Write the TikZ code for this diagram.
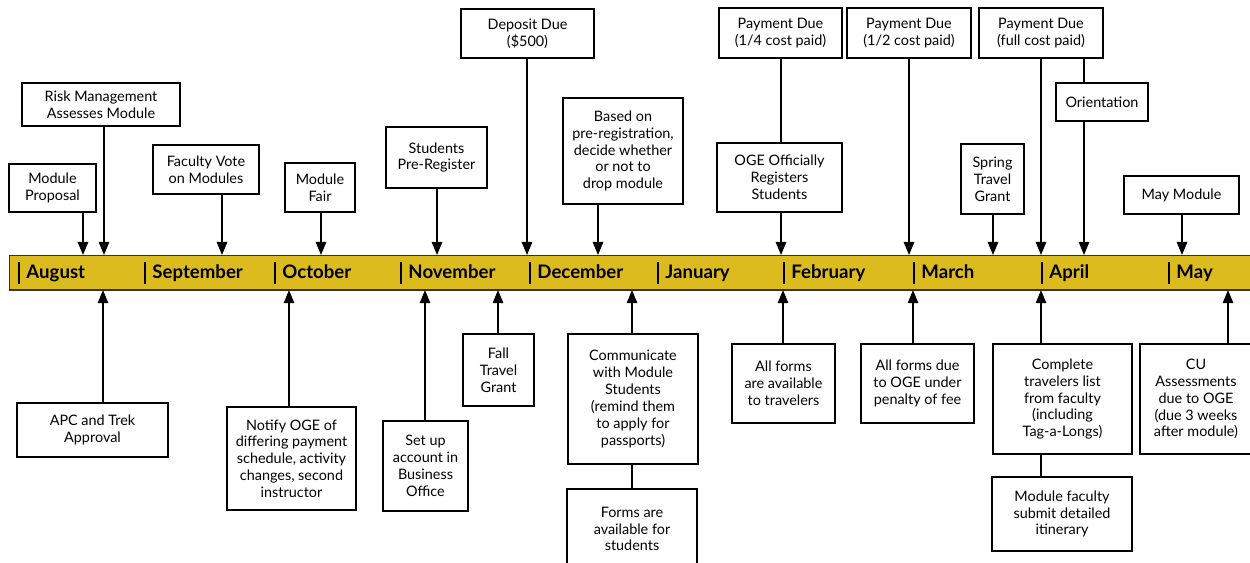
\documentclass[tikz,border=0pt]{standalone}
\usepackage{fontspec}
\setmainfont{Lato}
\usetikzlibrary{arrows.meta, positioning}
\definecolor{bargold}{RGB}{220, 187, 31}
\definecolor{baredge}{RGB}{58, 52, 28}

\begin{document}
\begin{tikzpicture}[x=0.02cm, y=-0.02cm,
  box/.style={draw, line width=0.8pt, fill=white, align=center, inner sep=1pt, font=\fontsize{8.2}{9.6}\selectfont},
  wh/.style 2 args={minimum width=#1*0.02cm, minimum height=#2*0.02cm},
  month/.style={anchor=base west, inner sep=0pt, font=\fontsize{10.6}{12}\selectfont\bfseries,
    execute at begin node={\rule[-0.27em]{1pt}{1.13em}\hspace{3.6pt}}},
  arr/.style={line width=0.8pt, -{Triangle[length=7.5pt, width=6pt]}},
  link/.style={line width=0.8pt}]
  \useasboundingbox (0,0) rectangle (1250,562);
  \clip (0,0) rectangle (1250,562);

  % the month bar
  \node[fill=bargold, draw=baredge, line width=0.6pt, anchor=north west, inner sep=0pt,
    minimum width=25.2cm, minimum height=0.68cm] (bar) at (9,255) {};
  \draw[baredge, line width=1.3pt] (bar.south west) -- (bar.south east);

  \node[month] (aug) at (18,278.5) {August};
  \node[month] (sep) at (144,278.5) {September};
  \node[month] (oct) at (274,278.5) {October};
  \node[month] (nov) at (400,278.5) {November};
  \node[month] (dec) at (529,278.5) {December};
  \node[month] (jan) at (657,278.5) {January};
  \node[month] (feb) at (783,278.5) {February};
  \node[month] (mar) at (913,278.5) {March};
  \node[month] (apr) at (1041,278.5) {April};
  \node[month] (may) at (1168,278.5) {May};

  % where the connectors meet the bar
  \coordinate (xprop) at (83,0);
  \coordinate (xrisk) at (104,0);
  \coordinate (xvote) at (222,0);
  \coordinate (xfair) at (321,0);
  \coordinate (xprereg) at (437,0);
  \coordinate (xdeposit) at (527,0);
  \coordinate (xdrop) at (598,0);
  \coordinate (xogereg) at (781,0);
  \coordinate (xpaytwo) at (909,0);
  \coordinate (xspring) at (993,0);
  \coordinate (xpayfull) at (1041,0);
  \coordinate (xorient) at (1084,0);
  \coordinate (xmaymod) at (1182,0);

  \coordinate (xapc) at (103,0);
  \coordinate (xnotify) at (289,0);
  \coordinate (xaccount) at (425,0);
  \coordinate (xfall) at (498,0);
  \coordinate (xcomm) at (632,0);
  \coordinate (xtravel) at (783,0);
  \coordinate (xdue) at (913,0);
  \coordinate (xcomplete) at (1041,0);
  \coordinate (xcu) at (1228,0);

  % above the bar
  \node[box, wh={87}{48}] (prop) at (52.5,188) {Module\\Proposal};
  \node[box, wh={158}{43}] (risk) at (101,104.5) {Risk Management\\Assesses Module};
  \node[box, wh={106}{49}] (vote) at (206,169.5) {Faculty Vote\\on Modules};
  \node[box, wh={70}{49}] (fair) at (320,187.5) {Module\\Fair};
  \node[box, wh={101}{61}] (prereg) at (436.5,157.5) {Students\\Pre-Register};
  \node[box, wh={133}{49}] (deposit) at (527.5,33.5) {Deposit Due\\(\$500)};
  \node[box, wh={120}{106}] (drop) at (623,151) {Based on\\pre-registration,\\decide whether\\or not to\\drop module};
  \node[box, wh={123}{50}] (payone) at (780.5,33) {Payment Due\\(1/4 cost paid)};
  \node[box, wh={125}{69}] (ogereg) at (779.5,177.5) {OGE Officially\\Registers\\Students};
  \node[box, wh={124}{50}] (paytwo) at (909,33) {Payment Due\\(1/2 cost paid)};
  \node[box, wh={124}{50}] (payfull) at (1041,33) {Payment Due\\(full cost paid)};
  \node[box, wh={92}{38}] (orient) at (1102,102) {Orientation};
  \node[box, wh={63}{70}] (spring) at (992.5,179) {Spring\\Travel\\Grant};
  \node[box, wh={115}{38}] (maymod) at (1181.5,195) {May Module};

  % below the bar
  \node[box, wh={151}{54}] (apc) at (92.5,430) {APC and Trek\\Approval};
  \node[box, wh={129}{103}] (notify) at (291.5,458.5) {Notify OGE of\\differing payment\\schedule, activity\\changes, second\\instructor};
  \node[box, wh={85}{90}] (account) at (425.5,466) {Set up\\account in\\Business\\Office};
  \node[box, wh={71}{72}] (fall) at (498.5,370) {Fall\\Travel\\Grant};
  \node[box, wh={130}{130}] (comm) at (633,399) {Communicate\\with Module\\Students\\(remind them\\to apply for\\passports)};
  \node[box, wh={130}{80}] (forms) at (632,529) {Forms are\\available for\\students};
  \node[box, wh={103}{79}] (travel) at (783.5,383.5) {All forms\\are available\\to travelers};
  \node[box, wh={113}{79}] (due) at (917.5,383.5) {All forms due\\to OGE under\\penalty of fee};
  \node[box, wh={139}{110}] (complete) at (1062.5,399) {Complete\\travelers list\\from faculty\\(including\\Tag-a-Longs)};
  \node[box, wh={140}{74}] (itin) at (1062,514) {Module faculty\\submit detailed\\itinerary};
  \node[box, wh={112}{110}] (cu) at (1196,399) {CU\\Assessments\\due to OGE\\(due 3 weeks\\after module)};

  % connectors into the bar from above
  \draw[arr] (prop.south -| xprop) -- (bar.north -| xprop);
  \draw[arr] (risk.south -| xrisk) -- (bar.north -| xrisk);
  \draw[arr] (vote.south -| xvote) -- (bar.north -| xvote);
  \draw[arr] (fair.south -| xfair) -- (bar.north -| xfair);
  \draw[arr] (prereg.south -| xprereg) -- (bar.north -| xprereg);
  \draw[arr] (deposit.south -| xdeposit) -- (bar.north -| xdeposit);
  \draw[arr] (drop.south -| xdrop) -- (bar.north -| xdrop);
  \draw[link] (payone.south -| xogereg) -- (ogereg.north -| xogereg);
  \draw[arr] (ogereg.south -| xogereg) -- (bar.north -| xogereg);
  \draw[arr] (paytwo.south -| xpaytwo) -- (bar.north -| xpaytwo);
  \draw[arr] (payfull.south -| xpayfull) -- (bar.north -| xpayfull);
  \draw[link] (payfull.south -| xorient) -- (orient.north -| xorient);
  \draw[arr] (orient.south -| xorient) -- (bar.north -| xorient);
  \draw[arr] (spring.south -| xspring) -- (bar.north -| xspring);
  \draw[arr] (maymod.south -| xmaymod) -- (bar.north -| xmaymod);

  % connectors into the bar from below
  \draw[arr] (apc.north -| xapc) -- (bar.south -| xapc);
  \draw[arr] (notify.north -| xnotify) -- (bar.south -| xnotify);
  \draw[arr] (account.north -| xaccount) -- (bar.south -| xaccount);
  \draw[arr] (fall.north -| xfall) -- (bar.south -| xfall);
  \draw[arr] (comm.north -| xcomm) -- (bar.south -| xcomm);
  \draw[link] (comm.south -| xcomm) -- (forms.north -| xcomm);
  \draw[arr] (travel.north -| xtravel) -- (bar.south -| xtravel);
  \draw[arr] (due.north -| xdue) -- (bar.south -| xdue);
  \draw[arr] (complete.north -| xcomplete) -- (bar.south -| xcomplete);
  \draw[link] (complete.south -| xcomplete) -- (itin.north -| xcomplete);
  \draw[arr] (cu.north -| xcu) -- (bar.south -| xcu);
\end{tikzpicture}
\end{document}
